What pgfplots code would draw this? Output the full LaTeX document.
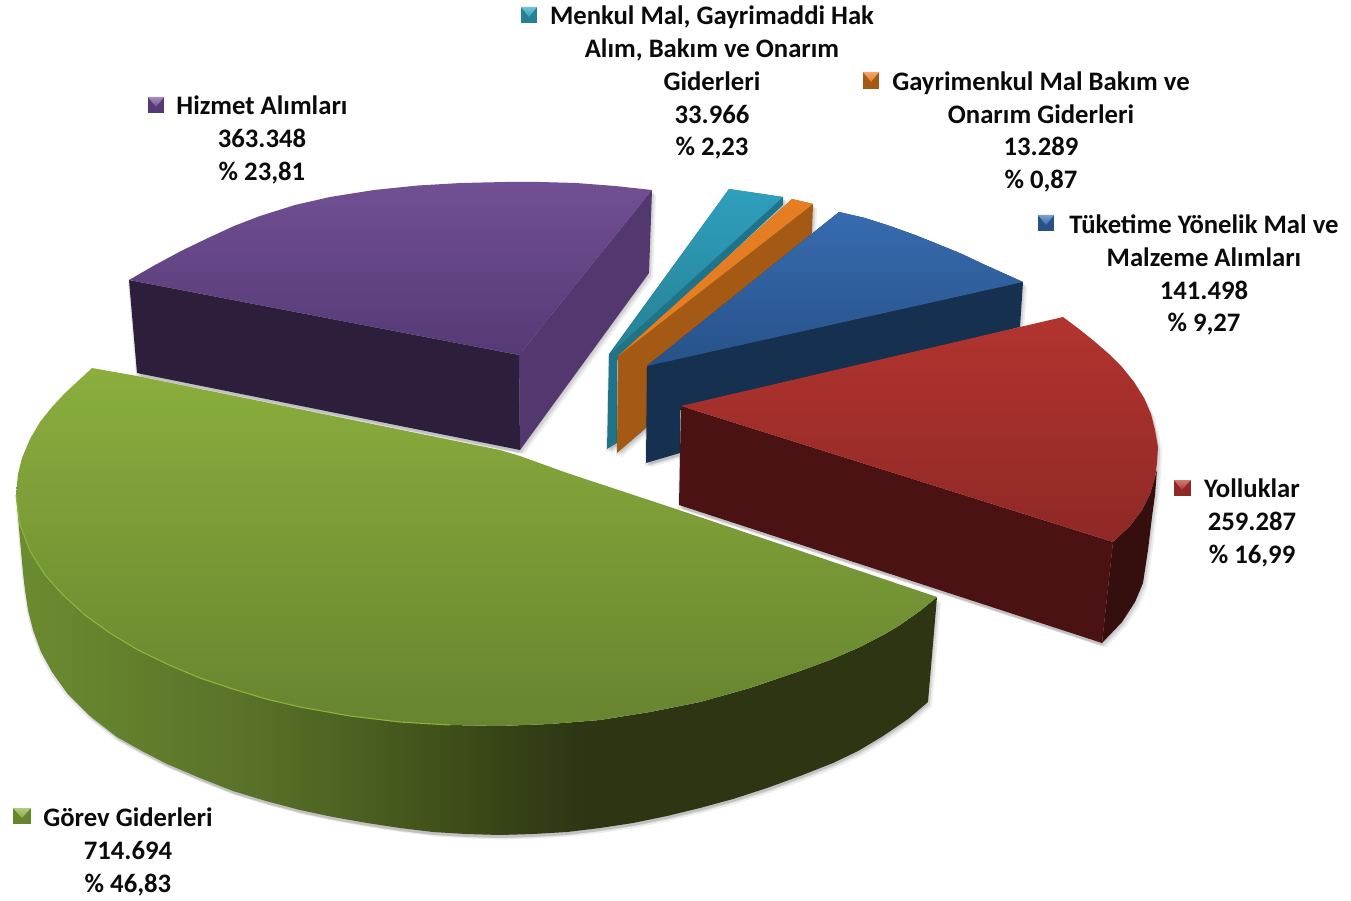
\documentclass[border=0pt]{standalone}
\usepackage{fontspec}
\setmainfont{Carlito}
\usepackage{pgfplots}
\usepackage{pgfplotstable}
\pgfplotsset{compat=1.18}

\definecolor{txt}{HTML}{0B0B0B}
\definecolor{gA}{HTML}{6C8C30}
\definecolor{gB}{HTML}{5A7329}
\definecolor{gC}{HTML}{4E6423}
\definecolor{gE}{HTML}{405119}
\definecolor{gF}{HTML}{343F16}
\definecolor{gD}{HTML}{2D3513}
\definecolor{greenA}{HTML}{8BAE3D}
\definecolor{greenB}{HTML}{67842F}
\definecolor{greenrim}{HTML}{8DB53C}
\definecolor{purpleA}{HTML}{714F93}
\definecolor{purpleB}{HTML}{553A75}
\definecolor{purplewall}{HTML}{53386F}
\definecolor{purplefront}{HTML}{2D1E3B}
\definecolor{tealA}{HTML}{2E9FBD}
\definecolor{tealB}{HTML}{278194}
\definecolor{tealwall}{HTML}{1F7489}
\definecolor{orangetop}{HTML}{E57D22}
\definecolor{orangewall}{HTML}{A45A15}
\definecolor{blueA}{HTML}{376BB0}
\definecolor{blueB}{HTML}{275289}
\definecolor{bluewall}{HTML}{163050}
\definecolor{redA}{HTML}{B2342F}
\definecolor{redB}{HTML}{8F2826}
\definecolor{redfront}{HTML}{4A1212}
\definecolor{redwall}{HTML}{350E0E}
\pgfdeclarehorizontalshading{greenside}{100bp}{color(0bp)=(gA); color(25bp)=(gA); color(37bp)=(gB); color(42.4bp)=(gC); color(47.9bp)=(gE); color(52.6bp)=(gF); color(56bp)=(gD); color(100bp)=(gD)}

% all outlines in image pixels, y running down
\pgfplotstableread{
x y
129 280
155 265
181 251
208 238
234 226
260 216
295 205
330 197
374 190
418 185.5
461 183
505 182
540 182
576 183
615 186
652 190
649 273
520 450
137 373
}\purpleall
\pgfplotstableread{
x y
129 280
155 265
181 251
208 238
234 226
260 216
295 205
330 197
374 190
418 185.5
461 183
505 182
540 182
576 183
615 186
652 190
519 355
}\purpletop
\pgfplotstableread{
x y
729 189
783 197
783 205
617 360
617 443
607 449
609 354
}\tealall
\pgfplotstableread{
x y
792 199
813 204
812 233
646 428
617 453
618 356
}\orangeall
\pgfplotstableread{
x y
839 212
865 218
890 226
915 235
940 245
962 254
983 264
1003 273
1023 282
1020 327
680 410
680 453
646 463
647 366
}\blueall
\pgfplotstableread{
x y
839 212
865 218
890 226
915 235
940 245
962 254
983 264
1003 273
1023 282
647 366
}\bluetop
\pgfplotstableread{
x y
681 406
1063 317
1079 329
1094 341
1109 354
1122 367
1134 382
1144 398
1151 414
1155 430
1158 447
1157 470
1155 495
1152 517
1148 550
1143 583
1135 602
1122 622
1102 643
679 505
}\redall
\pgfplotstableread{
x y
681 406
1063 317
1079 329
1094 341
1109 354
1122 367
1134 382
1144 398
1151 414
1155 430
1158 447
1157 463
1155 478
1150 494
1142 510
1130 526
1113 542
}\redtop
\pgfplotstableread{
x y
92 368
78 381
65 393
52 407
40 422
30 439
22 458
18 474
16 495
20 525
30 551
45 575
63 595
85 615
110 633
138 650
167 664
200 678
233 689
266 699
300 707
350 716
400 722
450 725
500 726
550 724
600 720
650 712
700 702
750 688
800 671
830 660
860 647
885 634
900 625
920 611
937 597
673 508
567 473
520 456
500 450
137 376
}\greentop
\pgfplotstableread{
x y
16 495
20 525
30 551
45 575
63 595
85 615
110 633
138 650
167 664
200 678
233 689
266 699
300 707
350 716
400 722
450 725
}\greenrimline
\pgfplotstableread{
x y
16 495
20 525
30 551
45 575
63 595
85 615
110 633
138 650
167 664
200 678
233 689
266 699
300 707
350 716
400 722
450 725
500 726
550 724
600 720
650 712
700 702
750 688
800 671
830 660
860 647
885 634
900 625
920 611
937 597
928 702
908 719
883 736
858 751
833 763
800 776
767 788
733 799
700 808
667 816
633 823
600 828
567 832
533 834
500 835
466 834
433 832
400 828
367 823
333 817
300 810
266 801
233 791
200 778
167 764
142 751
117 737
90 716
67 693
52 672
41 652
33 630
28 610
25 590
23 573
}\greenside

\newcommand{\softshadow}[1]{%
  \addplot[draw=none, fill=black, fill opacity=0.09, xshift=-1pt, yshift=-3pt] table[x=x,y=y] {#1};
  \addplot[draw=none, fill=black, fill opacity=0.10, xshift=2pt, yshift=-3pt] table[x=x,y=y] {#1};
  \addplot[draw=none, fill=black, fill opacity=0.07, xshift=4pt, yshift=-4.5pt] table[x=x,y=y] {#1};
}
% legend key: left, right, mid x, top, bottom, mid y, light, body
\newcommand{\lkey}[8]{%
  \addplot[draw=none, fill=#8] coordinates {(#1,#4) (#2,#4) (#2,#5) (#1,#5)};
  \addplot[draw=none, top color=#7!65!white, bottom color=#7] coordinates {(#1,#4) (#2,#4) (#3,#6)};
}
\newcommand{\lab}[3]{\node[font=\fontsize{26.7}{32}\selectfont\bfseries, text=txt, anchor=base, inner sep=0pt] at (axis cs:#1,#2) {#3};}

\begin{document}
\begin{tikzpicture}
\begin{axis}[
    hide axis,
    scale only axis,
    width=1351pt,
    height=901pt,
    xmin=0, xmax=1351,
    ymin=0, ymax=901,
    y dir=reverse,
    clip=false,
]
\path (axis cs:0,0) rectangle (axis cs:1351,901);

% Hizmet Alimlari
\softshadow{\purpleall}
\addplot[draw=none, fill=purplewall] coordinates {(652,190) (649,273) (520,450) (519,355)};
\addplot[draw=none, fill=purplefront] coordinates {(129,280) (519,355) (520,450) (137,373)};
\addplot[draw=none, top color=purpleA, bottom color=purpleB] table[x=x,y=y] {\purpletop};

% Menkul Mal
\softshadow{\tealall}
\addplot[draw=none, fill=tealwall] table[x=x,y=y] {\tealall};
\addplot[draw=none, top color=tealA, bottom color=tealB] coordinates {(729,189) (783,197) (610,354)};

% Gayrimenkul
\softshadow{\orangeall}
\addplot[draw=none, fill=orangewall] table[x=x,y=y] {\orangeall};
\addplot[draw=none, fill=orangetop] coordinates {(792,199) (813,204) (618,356)};

% Tuketime
\softshadow{\blueall}
\addplot[draw=none, fill=bluewall] table[x=x,y=y] {\blueall};
\addplot[draw=none, top color=blueA, bottom color=blueB] table[x=x,y=y] {\bluetop};

% Yolluklar
\softshadow{\redall}
\addplot[draw=none, fill=redwall] coordinates {(1113,542) (1130,526) (1142,510) (1150,494) (1157,470) (1155,495) (1152,517) (1148,550) (1143,583) (1135,602) (1122,622) (1102,643)};
\addplot[draw=none, fill=redfront] coordinates {(681,406) (1113,542) (1102,643) (679,505)};
\addplot[draw=none, top color=redA, bottom color=redB] table[x=x,y=y] {\redtop};

% Gorev Giderleri
\softshadow{\greenside}
\addplot[draw=none, shading=greenside] table[x=x,y=y] {\greenside};
\addplot[draw=none, top color=greenA, bottom color=greenB] table[x=x,y=y] {\greentop};
\addplot[color=greenrim, line width=1.1pt] table[x=x,y=y] {\greenrimline};

% legend keys
\lkey{521}{537}{529}{7}{23}{17}{tealA}{tealB}
\lkey{863}{879}{871}{72}{89}{82}{orangetop}{orangewall}
\lkey{1038}{1054}{1046}{215}{231}{225}{blueA}{blueB}
\lkey{1174}{1191}{1182}{480}{496}{490}{redA}{redB}
\lkey{148}{164}{156}{97}{113}{107}{purpleA}{purpleB}
\lkey{13}{31}{22}{808}{824}{818}{greenA}{greenB}

% labels
\lab{712}{25}{Menkul Mal, Gayrimaddi Hak}
\lab{712}{58}{Alım, Bakım ve Onarım}
\lab{712}{91}{Giderleri}
\lab{712}{124}{33.966}
\lab{712}{156}{\% 2,23}
\lab{1041}{91}{Gayrimenkul Mal Bakım ve}
\lab{1041}{124}{Onarım Giderleri}
\lab{1041}{156}{13.289}
\lab{1041}{189}{\% 0,87}
\lab{1204}{234}{Tüketime Yönelik Mal ve}
\lab{1204}{266}{Malzeme Alımları}
\lab{1204}{299}{141.498}
\lab{1204}{331}{\% 9,27}
\lab{1252}{497}{Yolluklar}
\lab{1252}{530}{259.287}
\lab{1252}{563}{\% 16,99}
\lab{262}{115}{Hizmet Alımları}
\lab{262}{148}{363.348}
\lab{262}{181}{\% 23,81}
\lab{128}{826}{Görev Giderleri}
\lab{128}{859}{714.694}
\lab{128}{892}{\% 46,83}
\end{axis}
\end{tikzpicture}
\end{document}
